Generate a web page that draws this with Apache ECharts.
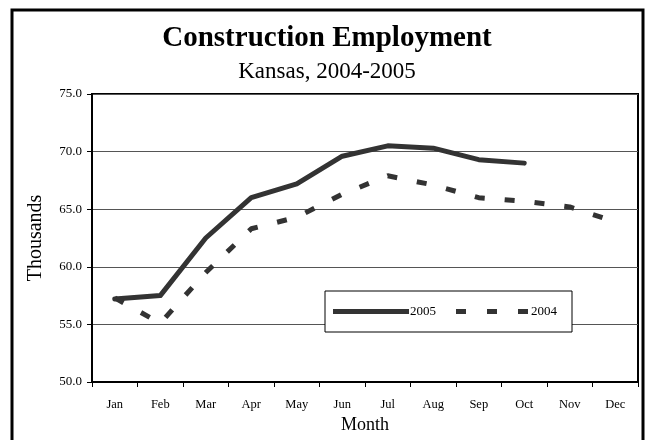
<!DOCTYPE html>
<html>
<head>
<meta charset="utf-8">
<script src="https://cdn.jsdelivr.net/npm/echarts@6/dist/echarts.min.js"></script>
<style>
  html, body { margin:0; padding:0; background:#fff; }
  #chart { width:654px; height:440px; }
</style>
</head>
<body>
<div id="chart"></div>
<script>
// data
var months    = ['Jan','Feb','Mar','Apr','May','Jun','Jul','Aug','Sep','Oct','Nov','Dec'];
var emp2005   = [57.2, 57.5, 62.5, 66.0, 67.2, 69.6, 70.5, 70.3, 69.3, 69.0, null, null];
var emp2004   = [57.3, 55.1, 59.5, 63.3, 64.3, 66.3, 67.9, 67.1, 66.0, 65.7, 65.2, 63.9];

var serif     = '"Liberation Serif", "Times New Roman", serif';
var lineColor = '#333333';

var chart = echarts.init(document.getElementById('chart'));
var option = {
    backgroundColor: '#fff',
    animation: false,
    textStyle: { fontFamily: serif },
    graphic: [{
        type: 'rect',
        shape: { x: 12, y: 10, width: 631, height: 432 },
        style: { fill: 'none', stroke: '#000', lineWidth: 3 },
        silent: true
    }],
    title: [{
        text: 'Construction Employment',
        left: 'center',
        top: 19,
        textStyle: { fontFamily: serif, fontSize: 29, fontWeight: 'bold', color: '#000' }
    }, {
        text: 'Kansas, 2004-2005',
        left: 'center',
        top: 55,
        textStyle: { fontFamily: serif, fontSize: 23, fontWeight: 'normal', color: '#000' }
    }],
    legend: {
        left: 325,
        top: 291,
        orient: 'horizontal',
        itemWidth: 76,
        itemHeight: 5,
        itemGap: 20,
        padding: [14, 15, 14, 8],
        backgroundColor: '#fff',
        borderColor: '#000',
        borderWidth: 1,
        borderRadius: 0,
        itemStyle: { borderWidth: 0 },
        textStyle: { fontFamily: serif, fontSize: 13, color: '#000', padding: [2, 0, 0, -4] },
        data: [
            { name: '2005', icon: 'path://M0,0H78V5H0Z' },
            { name: '2004', icon: 'path://M0,0H10V5H0Z M31,0H41V5H31Z M62,0H72V5H62Z' }
        ]
    },
    grid: {
        left: 92, top: 94, right: 16, bottom: 58,
        show: true,
        borderColor: '#000',
        borderWidth: 2,
        backgroundColor: '#fff'
    },
    xAxis: {
        type: 'category',
        data: months,
        boundaryGap: true,
        name: 'Month',
        nameLocation: 'middle',
        nameGap: 33,
        nameTextStyle: { fontFamily: serif, fontSize: 18, color: '#000' },
        axisLine: { lineStyle: { color: '#000', width: 2 } },
        axisTick: { show: true, length: 5, lineStyle: { color: '#000' } },
        axisLabel: { fontFamily: serif, fontSize: 12.5, color: '#000', margin: 16 },
        splitLine: { show: false }
    },
    yAxis: {
        type: 'value',
        min: 50,
        max: 75,
        interval: 5,
        name: 'Thousands',
        nameLocation: 'middle',
        nameGap: 46,
        nameTextStyle: { fontFamily: serif, fontSize: 20, color: '#000' },
        axisLine: { show: true, lineStyle: { color: '#000', width: 2 } },
        axisTick: { show: true, length: 5, lineStyle: { color: '#000' } },
        axisLabel: {
            fontFamily: serif, fontSize: 13, color: '#000', margin: 10,
            formatter: function (v) { return v.toFixed(1); }
        },
        splitLine: { show: true, lineStyle: { color: '#555', width: 1 } }
    },
    series: [{
        name: '2005',
        type: 'line',
        data: emp2005,
        symbol: 'none',
        connectNulls: false,
        lineStyle: { color: lineColor, width: 5, cap: 'round', join: 'round' },
        itemStyle: { color: lineColor }
    }, {
        name: '2004',
        type: 'line',
        data: emp2004,
        symbol: 'none',
        lineStyle: { color: lineColor, width: 5, type: [10, 20] },
        itemStyle: { color: lineColor }
    }]
};
chart.setOption(option);
</script>
</body>
</html>
